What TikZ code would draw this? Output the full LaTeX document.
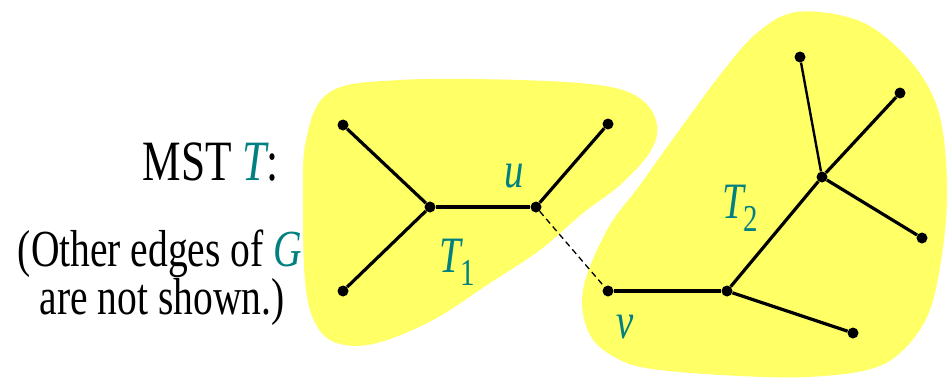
\documentclass[tikz,border=0pt]{standalone}
\usepackage{fontspec}
\setmainfont{Liberation Serif}
\newfontfamily\condfont[FakeStretch=0.76]{Liberation Serif}
\usepackage{tikz}
\usetikzlibrary{arrows.meta, calc, positioning}
\definecolor{myyellow1}{RGB}{255, 255, 102}
\definecolor{myteal1}{RGB}{0, 128, 128}
\newcommand{\subidx}[1]{\raisebox{-13pt}{\fontsize{38}{38}\selectfont\upshape #1}}

\begin{document}
\begin{tikzpicture}[x=1pt, y=-1pt,
  dot/.style={circle, fill=black, inner sep=0, minimum size=11},
  treeedge/.style={line width=3.2, black},
  note/.style={font=\condfont\fontsize{52}{52}\selectfont, inner sep=0, anchor=base},
  lbl/.style={font=\condfont\itshape\fontsize{51}{51}\selectfont, text=myteal1, inner sep=0, anchor=base west}]
\useasboundingbox (0,0) rectangle (948,389);

% --- Yellow regions ---
\fill [myyellow1] plot[smooth cycle, tension=0.6] coordinates {(303,213) (306,140) (330,92) (400,80) (520,80) (605,86) (642,100) (657,125) (650,152) (620,185) (583,213) (540,250) (490,283) (433,320) (377,343) (340,344) (318,328) (306,290)};
\fill [myyellow1] plot[smooth cycle, tension=0.6] coordinates {(797,12) (857,20) (900,50) (930,90) (943,133) (947,200) (940,267) (927,317) (900,353) (867,370) (807,377) (740,376) (660,370) (620,360) (590,335) (583,290) (607,230) (640,185) (670,143) (720,75) (757,33)};

% --- Text ---
\node at (279,180) [note, anchor=base east, font=\condfont\fontsize{57}{57}\selectfont] (mst) {MST \textcolor{myteal1}{\itshape T}:};
\node at (160,266) [note] (other) {(Other edges of \textcolor{myteal1}{\itshape G}};
\node at (162,314) [note] (shown) {are not shown.)};

% --- Tree T1 ---
\node at (430,207) [dot] (c1) {};
\node at (343,125) [dot] (a1) {};
\node at (343,291) [dot] (a2) {};
\node at (536,207) [dot] (u) {};
\node at (608,124) [dot] (b1) {};
\node at (504,187) [lbl] (ulbl) {u};
\node at (439,272) [lbl] (t1lbl) {T\subidx{1}};

% --- Tree T2 ---
\node at (608,291) [dot] (v) {};
\node at (727,291) [dot] (w) {};
\node at (853,333) [dot] (w1) {};
\node at (822,177) [dot] (hub) {};
\node at (800,57) [dot] (h1) {};
\node at (900,93) [dot] (h2) {};
\node at (922,238) [dot] (h3) {};
\node at (616,338) [lbl] (vlbl) {v};
\node at (722,218) [lbl] (t2lbl) {T\subidx{2}};

% --- Edges ---
\draw (c1) edge[treeedge] (a1);
\draw (c1) edge[treeedge] (a2);
\draw (c1) edge[treeedge] (u);
\draw (u) edge[treeedge] (b1);
\draw (v) edge[treeedge] (w);
\draw (w) edge[treeedge] (w1);
\draw (w) edge[treeedge] (hub);
\draw (hub) edge[treeedge, line width=2.4] (h1);
\draw (hub) edge[treeedge] (h2);
\draw (hub) edge[treeedge] (h3);
\draw (u) edge[black, line width=1.3, dash pattern=on 6 off 4] (v);
\end{tikzpicture}
\end{document}
